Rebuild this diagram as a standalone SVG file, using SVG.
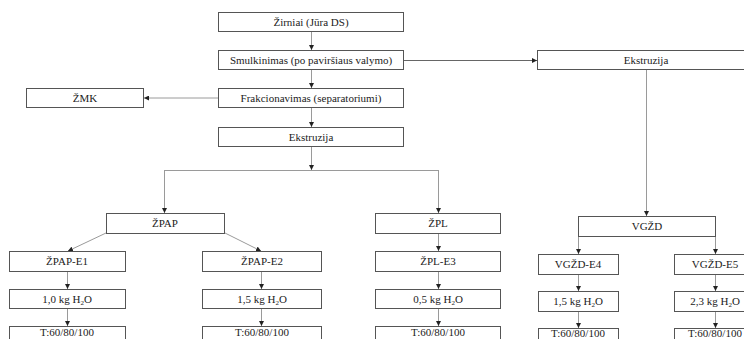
<svg xmlns="http://www.w3.org/2000/svg" width="744" height="339" viewBox="0 0 744 339">
<style>
.box rect{fill:#fff;stroke:#555;stroke-width:1}
.box text{font-family:'Liberation Serif','Times New Roman','DejaVu Serif',serif;font-size:11px;fill:#222;text-anchor:middle}
.sub{font-size:7px}
#connectors path{fill:none;stroke:#9a9a9a;stroke-width:1}
#connectors path.a{marker-end:url(#ah)}
</style>
<defs>
<marker id="ah" viewBox="0 0 6 6" refX="6" refY="3" markerWidth="5" markerHeight="5" orient="auto" markerUnits="userSpaceOnUse">
<path d="M0,0 L6,3 L0,6 Z" fill="#222"/>
</marker>
</defs>
<rect width="744" height="339" fill="#fff"/>
<g id="connectors">
<path class="a" d="M311.5,31 V50"/>
<path class="a" d="M311.5,69 V88"/>
<path class="a" d="M311.5,107 V127"/>
<path class="a" d="M218,98 H144"/>
<path class="a" d="M404,60.5 H537" style="stroke:#666"/>
<path class="a" d="M311.5,146 V170"/>
<path d="M164.5,170.5 H438.5"/>
<path class="a" d="M164.5,170 V213"/>
<path class="a" d="M438.5,170 V213"/>
<path class="a" d="M646.5,69 V216"/>
<path class="a" d="M106,233 L68,251"/>
<path class="a" d="M225,233 L261,251"/>
<path class="a" d="M67.5,271 V289"/>
<path class="a" d="M67.5,308 V326"/>
<path class="a" d="M261.5,271 V289"/>
<path class="a" d="M261.5,308 V326"/>
<path class="a" d="M438.5,233 V251"/>
<path class="a" d="M438.5,271 V289"/>
<path class="a" d="M438.5,308 V326"/>
<path class="a" d="M578.5,236 V254"/>
<path class="a" d="M715.5,236 V254"/>
<path class="a" d="M578.5,274 V291"/>
<path class="a" d="M578.5,311 V328"/>
<path class="a" d="M715.5,274 V291"/>
<path class="a" d="M715.5,311 V328"/>
</g>
<g id="zirniai" class="box"><rect x="218.5" y="12.5" width="185" height="19"/><text x="311" y="26">Žirniai (Jūra DS)</text></g>
<g id="smulkinimas" class="box"><rect x="218.5" y="50.5" width="185" height="19"/><text x="311" y="64">Smulkinimas (po paviršiaus valymo)</text></g>
<g id="frakcionavimas" class="box"><rect x="218.5" y="88.5" width="185" height="19"/><text x="311" y="102">Frakcionavimas (separatoriumi)</text></g>
<g id="ekstruzija1" class="box"><rect x="218.5" y="127.5" width="185" height="19"/><text x="311" y="141">Ekstruzija</text></g>
<g id="zmk" class="box"><rect x="26.5" y="88.5" width="117" height="19"/><text x="85" y="102">ŽMK</text></g>
<g id="ekstruzija2" class="box"><rect x="537.5" y="50.5" width="218" height="19"/><text x="646" y="64">Ekstruzija</text></g>
<g id="zpap" class="box"><rect x="106.5" y="213.5" width="118" height="20"/><text x="165" y="227">ŽPAP</text></g>
<g id="zpl" class="box"><rect x="375.5" y="213.5" width="125" height="20"/><text x="438" y="227">ŽPL</text></g>
<g id="vgzd" class="box"><rect x="578.5" y="216.5" width="137" height="20"/><text x="647" y="230">VGŽD</text></g>
<g id="zpap-e1" class="box"><rect x="9.5" y="251.5" width="116" height="20"/><text x="67" y="265">ŽPAP-E1</text></g>
<g id="zpap-e2" class="box"><rect x="202.5" y="251.5" width="119" height="20"/><text x="262" y="265">ŽPAP-E2</text></g>
<g id="zpl-e3" class="box"><rect x="375.5" y="251.5" width="125" height="20"/><text x="438" y="265">ŽPL-E3</text></g>
<g id="vgzd-e4" class="box"><rect x="538.5" y="254.5" width="80" height="20"/><text x="578" y="268">VGŽD-E4</text></g>
<g id="vgzd-e5" class="box"><rect x="674.5" y="254.5" width="82" height="20"/><text x="715" y="268">VGŽD-E5</text></g>
<g id="h2o-1" class="box"><rect x="9.5" y="289.5" width="116" height="19"/><text x="67" y="303">1,0 kg H<tspan class="sub" dy="2">2</tspan><tspan dy="-2">O</tspan></text></g>
<g id="h2o-2" class="box"><rect x="202.5" y="289.5" width="119" height="19"/><text x="262" y="303">1,5 kg H<tspan class="sub" dy="2">2</tspan><tspan dy="-2">O</tspan></text></g>
<g id="h2o-3" class="box"><rect x="375.5" y="289.5" width="125" height="19"/><text x="438" y="303">0,5 kg H<tspan class="sub" dy="2">2</tspan><tspan dy="-2">O</tspan></text></g>
<g id="h2o-4" class="box"><rect x="538.5" y="291.5" width="80" height="20"/><text x="578" y="305">1,5 kg H<tspan class="sub" dy="2">2</tspan><tspan dy="-2">O</tspan></text></g>
<g id="h2o-5" class="box"><rect x="674.5" y="291.5" width="82" height="20"/><text x="715" y="305">2,3 kg H<tspan class="sub" dy="2">2</tspan><tspan dy="-2">O</tspan></text></g>
<g id="t-1" class="box"><rect x="9.5" y="326.5" width="116" height="20"/><text x="67" y="336">T:60/80/100</text></g>
<g id="t-2" class="box"><rect x="202.5" y="326.5" width="119" height="20"/><text x="262" y="336">T:60/80/100</text></g>
<g id="t-3" class="box"><rect x="375.5" y="326.5" width="125" height="20"/><text x="438" y="336">T:60/80/100</text></g>
<g id="t-4" class="box"><rect x="538.5" y="328.5" width="80" height="20"/><text x="578" y="337">T:60/80/100</text></g>
<g id="t-5" class="box"><rect x="674.5" y="328.5" width="82" height="20"/><text x="715" y="337">T:60/80/100</text></g>
</svg>
